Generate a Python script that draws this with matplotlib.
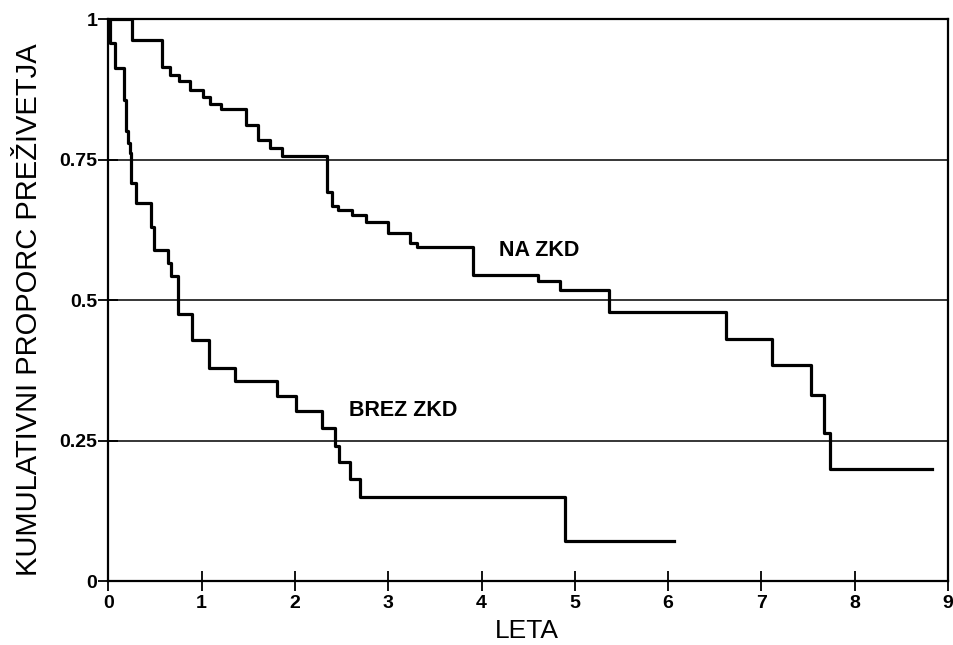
import matplotlib
matplotlib.use("Agg")
import matplotlib.pyplot as plt

# Kaplan-Meier style step curves
# times at which the curve steps down, and the value after each step
na_times = [0, 0.25, 0.57, 0.66, 0.755, 0.88, 1.01, 1.085, 1.21, 1.48, 1.60, 1.73,
            1.86, 2.34, 2.40, 2.46, 2.61, 2.76, 3.00, 3.23, 3.31, 3.91, 4.60, 4.84,
            5.37, 6.62, 7.11, 7.53, 7.67, 7.74, 8.83]
na_surv = [1.0, 0.963, 0.915, 0.900, 0.890, 0.873, 0.861, 0.849, 0.840, 0.812, 0.784, 0.771,
           0.757, 0.693, 0.667, 0.660, 0.651, 0.639, 0.620, 0.601, 0.594, 0.544, 0.533, 0.517,
           0.479, 0.431, 0.384, 0.331, 0.264, 0.200, 0.200]

brez_times = [0, 0.02, 0.07, 0.17, 0.19, 0.21, 0.23, 0.245, 0.30, 0.46, 0.49, 0.64, 0.67,
              0.75, 0.90, 1.08, 1.36, 1.81, 2.01, 2.29, 2.43, 2.47, 2.59, 2.70, 4.89, 6.06]
brez_surv = [1.0, 0.957, 0.912, 0.856, 0.800, 0.779, 0.761, 0.708, 0.672, 0.630, 0.589, 0.565, 0.543,
             0.476, 0.428, 0.379, 0.356, 0.330, 0.302, 0.272, 0.240, 0.212, 0.181, 0.149, 0.071, 0.071]

y_ticks = [0, 0.25, 0.5, 0.75, 1]
y_tick_labels = ["0", "0.25", "0.5", "0.75", "1"]
x_ticks = list(range(10))

plt.rcParams["font.family"] = ["Liberation Sans", "DejaVu Sans"]

fig = plt.figure(figsize=(9.54, 6.45), dpi=100)
ax = fig.add_axes([0.1136, 0.0992, 0.8801, 0.8713])

# horizontal reference lines
for yv in [0.25, 0.5, 0.75]:
    ax.axhline(yv, color="black", linewidth=1.1, zorder=1)

ax.step(na_times, na_surv, where="post", color="black", linewidth=2.3, zorder=3)
ax.step(brez_times, brez_surv, where="post", color="black", linewidth=2.3, zorder=3)

ax.text(4.62, 0.589, "NA ZKD", fontsize=15.5, fontweight="bold", ha="center", va="center")
ax.text(3.16, 0.303, "BREZ ZKD", fontsize=15.5, fontweight="bold", ha="center", va="center")

ax.set_xlim(0, 9)
ax.set_ylim(0, 1)
ax.set_xticks(x_ticks)
ax.set_yticks(y_ticks)
ax.set_yticklabels(y_tick_labels)
ax.tick_params(axis="both", direction="inout", length=14, width=1.3, labelsize=14)
ax.tick_params(axis="x", pad=3)
ax.tick_params(axis="y", pad=1)
for lab in ax.get_xticklabels() + ax.get_yticklabels():
    lab.set_fontweight("bold")

for sp in ax.spines.values():
    sp.set_linewidth(1.6)

ax.set_xlabel("LETA", fontsize=19)
ax.set_ylabel("KUMULATIVNI PROPORC PREŽIVETJA", fontsize=21)
# place axis labels where they sit in the reference (pixel positions -> axes fraction)
ax.xaxis.set_label_coords((527 - 108.4) / 840, (581 - 643) / 562)
ax.xaxis.label.set_va("bottom")
ax.yaxis.set_label_coords((43 - 108.4) / 840, (581 - 310) / 562)

fig.savefig("out.png", dpi=100)
